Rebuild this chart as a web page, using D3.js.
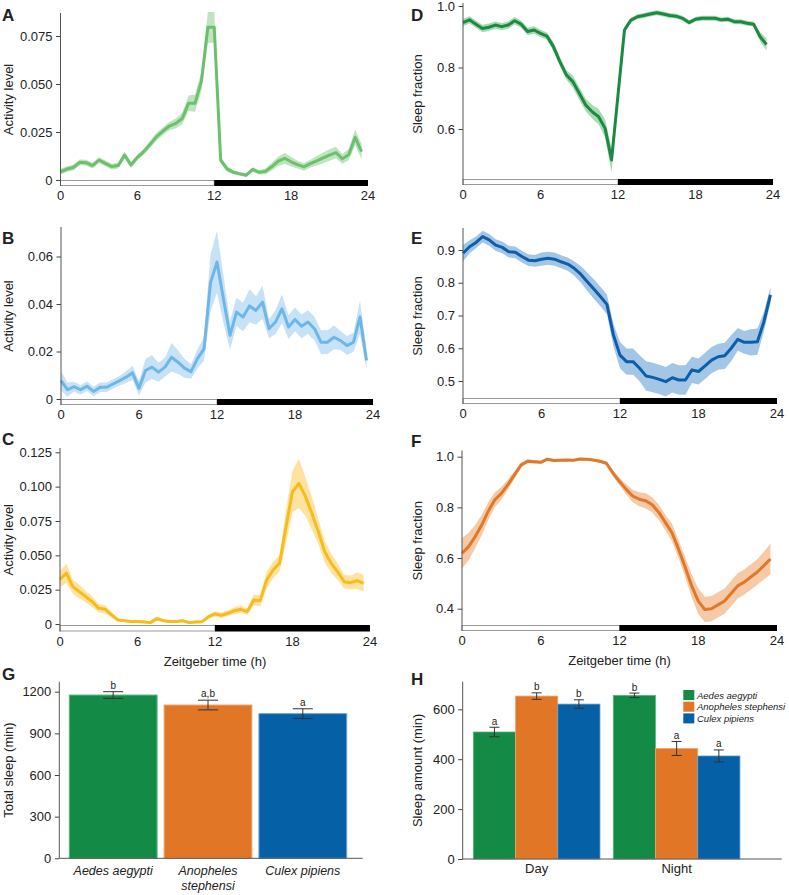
<!DOCTYPE html>
<html><head><meta charset="utf-8">
<script src="https://cdn.jsdelivr.net/npm/d3@7"></script>
<style>
body{margin:0;background:#fff}
svg{display:block}
text{font-family:"Liberation Sans",Arial,Helvetica,sans-serif;fill:#222}
</style>
</head><body>
<svg id="c" width="789" height="895"></svg>
<script>
// ---------- DATA ----------
const hours = [0,0.5,1,1.5,2,2.5,3,3.5,4,4.5,5,5.5,6,6.5,7,7.5,8,8.5,9,9.5,10,10.5,11,11.5,12,12.5,13,13.5,14,14.5,15,15.5,16,16.5,17,17.5,18,18.5,19,19.5,20,20.5,21,21.5,22,22.5,23,23.5];

// A: Aedes aegypti activity
const aedesActivity = [0.0043,0.0057,0.0065,0.0092,0.009,0.0075,0.0104,0.0087,0.007,0.0075,0.013,0.0078,0.0118,0.0148,0.0186,0.0226,0.0255,0.0281,0.0295,0.032,0.04,0.04,0.0515,0.0795,0.0795,0.0104,0.0058,0.004,0.0032,0.0025,0.0055,0.004,0.0045,0.007,0.0098,0.0113,0.0095,0.008,0.0068,0.0085,0.01,0.0115,0.013,0.0143,0.011,0.0133,0.0222,0.0148];
const aedesActivitySE = [0.0015,0.0015,0.0015,0.0015,0.0015,0.0015,0.0015,0.0015,0.0015,0.0015,0.0018,0.0015,0.0015,0.0015,0.0018,0.002,0.002,0.0022,0.0025,0.003,0.004,0.0045,0.005,0.008,0.008,0.002,0.0015,0.001,0.001,0.001,0.0012,0.0012,0.0015,0.002,0.0025,0.0028,0.0025,0.002,0.002,0.002,0.0025,0.0028,0.003,0.003,0.0025,0.003,0.004,0.004];
// B: Culex pipiens activity
const culexActivity = [0.0077,0.0039,0.0052,0.0039,0.0054,0.0032,0.0049,0.0049,0.0063,0.0077,0.0092,0.011,0.0045,0.012,0.0134,0.0113,0.0134,0.0176,0.0155,0.013,0.0115,0.017,0.0211,0.049,0.0577,0.042,0.0268,0.0366,0.0345,0.0392,0.0373,0.0408,0.0296,0.0324,0.038,0.0303,0.0335,0.0306,0.0324,0.0296,0.0239,0.0239,0.026,0.0246,0.0225,0.0239,0.0345,0.0162];
const culexActivitySE = [0.004,0.003,0.002,0.002,0.002,0.002,0.002,0.002,0.002,0.002,0.0025,0.003,0.003,0.005,0.005,0.004,0.004,0.006,0.005,0.004,0.003,0.004,0.005,0.012,0.013,0.01,0.006,0.006,0.006,0.007,0.006,0.007,0.004,0.005,0.006,0.005,0.005,0.005,0.005,0.005,0.005,0.005,0.005,0.004,0.004,0.004,0.007,0.004];
// C: Anopheles stephensi activity
const anophelesActivity = [0.0325,0.037,0.027,0.0235,0.0199,0.0162,0.0114,0.0107,0.0066,0.0029,0.0024,0.0019,0.0019,0.0015,0.001,0.0039,0.0024,0.0019,0.0019,0.0024,0.001,0.0015,0.0017,0.0053,0.0073,0.0063,0.0078,0.0097,0.0107,0.009,0.0175,0.017,0.032,0.0393,0.0442,0.0708,0.0963,0.1024,0.0927,0.0806,0.0672,0.0526,0.0442,0.038,0.0308,0.0301,0.0315,0.0296];
const anophelesActivitySE = [0.006,0.007,0.005,0.005,0.004,0.004,0.003,0.003,0.002,0.001,0.001,0.001,0.001,0.001,0.001,0.0015,0.001,0.001,0.001,0.001,0.001,0.001,0.001,0.0015,0.002,0.002,0.002,0.0025,0.0025,0.0025,0.004,0.004,0.006,0.006,0.006,0.012,0.015,0.018,0.014,0.012,0.009,0.008,0.007,0.006,0.005,0.005,0.006,0.006];
// D: Aedes aegypti sleep fraction
const aedesSleep = [0.946,0.955,0.941,0.927,0.931,0.938,0.933,0.938,0.952,0.941,0.917,0.922,0.911,0.902,0.868,0.819,0.776,0.754,0.716,0.678,0.656,0.64,0.602,0.499,0.71,0.922,0.954,0.965,0.969,0.974,0.978,0.974,0.969,0.967,0.96,0.946,0.957,0.96,0.96,0.96,0.955,0.957,0.949,0.949,0.944,0.941,0.9,0.875];
const aedesSleepSE = [0.012,0.012,0.012,0.012,0.012,0.012,0.012,0.012,0.012,0.012,0.012,0.012,0.012,0.012,0.015,0.015,0.015,0.02,0.02,0.02,0.022,0.025,0.03,0.04,0.02,0.01,0.008,0.008,0.008,0.008,0.008,0.008,0.008,0.008,0.008,0.008,0.008,0.008,0.008,0.008,0.008,0.008,0.008,0.008,0.008,0.008,0.015,0.02];
// E: Culex pipiens sleep fraction
const culexSleep = [0.89,0.91,0.923,0.941,0.931,0.915,0.908,0.895,0.893,0.88,0.869,0.867,0.872,0.875,0.872,0.864,0.857,0.844,0.826,0.803,0.781,0.758,0.734,0.64,0.579,0.559,0.559,0.539,0.515,0.511,0.505,0.498,0.51,0.503,0.503,0.534,0.529,0.546,0.564,0.574,0.577,0.6,0.627,0.618,0.618,0.62,0.681,0.763];
const culexSleepSE = [0.025,0.02,0.018,0.018,0.018,0.018,0.018,0.018,0.018,0.018,0.018,0.018,0.02,0.02,0.02,0.02,0.02,0.022,0.025,0.028,0.03,0.03,0.03,0.035,0.04,0.04,0.04,0.04,0.045,0.045,0.045,0.045,0.045,0.045,0.045,0.04,0.04,0.04,0.04,0.04,0.04,0.04,0.035,0.035,0.04,0.04,0.03,0.025];
// F: Anopheles stephensi sleep fraction
const anophelesSleep = [0.619,0.645,0.684,0.73,0.785,0.83,0.855,0.89,0.928,0.967,0.982,0.98,0.978,0.99,0.985,0.986,0.987,0.986,0.991,0.99,0.987,0.982,0.974,0.935,0.902,0.872,0.845,0.832,0.826,0.81,0.78,0.74,0.7,0.635,0.565,0.49,0.43,0.397,0.4,0.415,0.43,0.46,0.49,0.505,0.525,0.545,0.57,0.596];
const anophelesSleepSE = [0.06,0.055,0.045,0.04,0.035,0.03,0.025,0.02,0.015,0.01,0.008,0.007,0.006,0.006,0.005,0.005,0.005,0.005,0.005,0.005,0.005,0.006,0.008,0.012,0.015,0.02,0.025,0.028,0.03,0.03,0.03,0.03,0.035,0.035,0.04,0.045,0.05,0.05,0.05,0.05,0.05,0.05,0.05,0.05,0.05,0.05,0.055,0.06];

const timeTicks = [0,6,12,18,24];

// G / H
const species = ["Aedes aegypti","Anopheles stephensi","Culex pipiens"];
const speciesLabelLines = [["Aedes aegypti"],["Anopheles","stephensi"],["Culex pipiens"]];
const totalSleep = [1176,1104,1042];
const totalSleepSE = [24,35,35];
const totalSleepLetters = ["b","a,b","a"];
const periods = ["Day","Night"];
const daySleep = [509,653,621];
const daySleepSE = [19,13,17];
const dayLetters = ["a","b","b"];
const nightSleep = [656,443,413];
const nightSleepSE = [9,28,24];
const nightLetters = ["b","a","a"];
const speciesColors = ["#138a45","#e17627","#0560a6"];
const speciesStroke = ["#5cb87f","#f0a36a","#6aa6d6"];

// ---------- DRAW ----------
const svg = d3.select("#c");
const FONT = 13;

const panels = [
  {letter:"A", lx:2, ly:21, mean:aedesActivity, se:aedesActivitySE, line:"#6bc06b", band:"#bfe4bf",
   yLabel:"Activity level", yTicks:[0,0.025,0.05,0.075], fmt:d=>d===0?"0":d3.format(".3f")(d),
   x0:60.5, x1:368, dom:[0,0.075], rng:[180,36], axTop:13, barTop:180, barBot:186, yLabX:13, xTitle:false},
  {letter:"D", lx:411, ly:21, mean:aedesSleep, se:aedesSleepSE, line:"#1b8a42", band:"#a9dab3",
   yLabel:"Sleep fraction", yTicks:[0.6,0.8,1.0], fmt:d3.format(".1f"),
   x0:463, x1:773, dom:[0.6,1.0], rng:[129,6], axTop:3, barTop:179, barBot:185, yLabX:422, xTitle:false},
  {letter:"B", lx:2, ly:244, mean:culexActivity, se:culexActivitySE, line:"#6db6e8", band:"#c7e2f6",
   yLabel:"Activity level", yTicks:[0,0.02,0.04,0.06], fmt:d=>d===0?"0":d3.format(".2f")(d),
   x0:61, x1:373, dom:[0,0.06], rng:[399,256.5], axTop:227, barTop:399, barBot:405, yLabX:13, xTitle:false},
  {letter:"E", lx:411, ly:243.5, mean:culexSleep, se:culexSleepSE, line:"#0c5ea8", band:"#a4c6e6",
   yLabel:"Sleep fraction", yTicks:[0.5,0.6,0.7,0.8,0.9], fmt:d3.format(".1f"),
   x0:463, x1:777, dom:[0.5,0.9], rng:[381,250], axTop:228, barTop:398, barBot:404, yLabX:422, xTitle:false},
  {letter:"C", lx:2, ly:445, mean:anophelesActivity, se:anophelesActivitySE, line:"#f6bd1a", band:"#fde2a0",
   yLabel:"Activity level", yTicks:[0,0.025,0.05,0.075,0.1,0.125], fmt:d=>d===0?"0":d3.format(".3f")(d),
   x0:60, x1:370, dom:[0,0.125], rng:[624,452.3], axTop:448, barTop:625, barBot:631.5, yLabX:13, xTitle:true},
  {letter:"F", lx:411, ly:446.5, mean:anophelesSleep, se:anophelesSleepSE, line:"#e0782a", band:"#f6caa6",
   yLabel:"Sleep fraction", yTicks:[0.4,0.6,0.8,1.0], fmt:d3.format(".1f"),
   x0:462, x1:777, dom:[0.4,1.0], rng:[608.7,456.7], axTop:450.5, barTop:625, barBot:631, yLabX:422, xTitle:true}
];

function leftAxis(g, y, ticks, fmt, xPos, top, bottom){
  const ax = g.append("g").attr("transform",`translate(${xPos},0)`)
    .call(d3.axisLeft(y).tickValues(ticks).tickFormat(fmt).tickSize(4.5).tickPadding(3.5));
  ax.select(".domain").remove();
  ax.selectAll(".tick line").attr("stroke","#444");
  ax.selectAll(".tick text").attr("font-size",FONT).attr("fill","#222")
    .attr("font-family",'"Liberation Sans",Arial,sans-serif');
  g.append("line").attr("x1",xPos).attr("x2",xPos).attr("y1",top).attr("y2",bottom)
    .attr("stroke","#555").attr("stroke-width",1);
}

panels.forEach(p=>{
  const g = svg.append("g");
  const x = d3.scaleLinear().domain([0,24]).range([p.x0,p.x1]);
  const y = d3.scaleLinear().domain(p.dom).range(p.rng);
  const data = hours.map((h,i)=>({h, m:p.mean[i], s:p.se[i]}));
  g.append("path").datum(data)
    .attr("d", d3.area().x(d=>x(d.h)).y0(d=>y(d.m-d.s)).y1(d=>y(d.m+d.s)))
    .attr("fill",p.band).attr("stroke","none");
  g.append("path").datum(data)
    .attr("d", d3.line().x(d=>x(d.h)).y(d=>y(d.m)))
    .attr("fill","none").attr("stroke",p.line).attr("stroke-width",3)
    .attr("stroke-linejoin","round");
  // light/dark bar
  g.append("rect").attr("x",x(0)).attr("y",p.barTop+0.5).attr("width",x(12)-x(0)).attr("height",p.barBot-p.barTop-1)
    .attr("fill","#fff").attr("stroke","#999").attr("stroke-width",1);
  g.append("rect").attr("x",x(12)).attr("y",p.barTop).attr("width",x(24)-x(12)).attr("height",p.barBot-p.barTop)
    .attr("fill","#000");
  leftAxis(g, y, p.yTicks, p.fmt, p.x0, p.axTop, p.barBot);
  // x tick labels
  g.selectAll(".xt").data(timeTicks).enter().append("text")
    .attr("x",d=>x(d)).attr("y",p.barBot+14).attr("text-anchor","middle")
    .attr("font-size",FONT).text(d=>d);
  if(p.xTitle){
    g.append("text").attr("x",(x(0)+x(24))/2).attr("y",p.barBot+34).attr("text-anchor","middle")
      .attr("font-size",FONT).text("Zeitgeber time (h)");
  }
  g.append("text").attr("transform",`translate(${p.yLabX},${(p.axTop+p.barBot)/2}) rotate(-90)`)
    .attr("text-anchor","middle").attr("font-size",FONT).text(p.yLabel);
  g.append("text").attr("x",p.lx).attr("y",p.ly).attr("font-size",17).attr("font-weight","bold")
    .attr("fill","#000").text(p.letter);
});

// ---------- G ----------
{
  const g = svg.append("g");
  const axX = 59.3, base = 858.3;
  const x = d3.scaleBand().domain(species).range([65.5,350.5]).paddingInner(0.074).paddingOuter(0.04);
  const y = d3.scaleLinear().domain([0,1200]).range([base,691.7]);
  g.selectAll(".bar").data(species).enter().append("rect")
    .attr("x",d=>x(d)).attr("width",x.bandwidth())
    .attr("y",(d,i)=>y(totalSleep[i])).attr("height",(d,i)=>base-y(totalSleep[i]))
    .attr("fill",(d,i)=>speciesColors[i]).attr("stroke",(d,i)=>speciesStroke[i]).attr("stroke-width",1);
  species.forEach((s,i)=>{
    const cx = x(s)+x.bandwidth()/2, hi=y(totalSleep[i]+totalSleepSE[i]), lo=y(totalSleep[i]-totalSleepSE[i]);
    g.append("line").attr("x1",cx).attr("x2",cx).attr("y1",hi).attr("y2",lo).attr("stroke","#333");
    g.append("line").attr("x1",cx-10).attr("x2",cx+10).attr("y1",hi).attr("y2",hi).attr("stroke","#333");
    g.append("line").attr("x1",cx-10).attr("x2",cx+10).attr("y1",lo).attr("y2",lo).attr("stroke","#333");
    g.append("text").attr("x",cx).attr("y",hi-3).attr("text-anchor","middle").attr("font-size",10).text(totalSleepLetters[i]);
    speciesLabelLines[i].forEach((t,j)=>{
      g.append("text").attr("x",cx).attr("y",875+j*14.5).attr("text-anchor","middle")
        .attr("font-size",12.5).attr("font-style","italic").text(t);
    });
  });
  leftAxis(g, y, [0,300,600,900,1200], d3.format("d"), axX, 681.7, base);
  g.append("line").attr("x1",axX).attr("x2",362.7).attr("y1",base).attr("y2",base).attr("stroke","#555");
  g.append("text").attr("transform",`translate(13,${(681.7+base)/2}) rotate(-90)`)
    .attr("text-anchor","middle").attr("font-size",FONT).text("Total sleep (min)");
  g.append("text").attr("x",2).attr("y",680).attr("font-size",17).attr("font-weight","bold").attr("fill","#000").text("G");
}

// ---------- H ----------
{
  const g = svg.append("g");
  const axX = 462.7, base = 859;
  const x0 = d3.scaleBand().domain(periods).range([462.7,750.6]).paddingInner(0.095).paddingOuter(0.076);
  const x1 = d3.scaleBand().domain(species).range([0,x0.bandwidth()]).padding(0);
  const y = d3.scaleLinear().domain([0,600]).range([base,709.3]);
  const vals = {Day:[daySleep,daySleepSE,dayLetters], Night:[nightSleep,nightSleepSE,nightLetters]};
  periods.forEach(per=>{
    const [m,se,let_] = vals[per];
    species.forEach((s,i)=>{
      const bx = x0(per)+x1(s);
      g.append("rect").attr("x",bx).attr("width",x1.bandwidth()).attr("y",y(m[i])).attr("height",base-y(m[i]))
        .attr("fill",speciesColors[i]).attr("stroke",speciesStroke[i]).attr("stroke-width",0.8);
      const cx = bx+x1.bandwidth()/2, hi=y(m[i]+se[i]), lo=y(m[i]-se[i]);
      g.append("line").attr("x1",cx).attr("x2",cx).attr("y1",hi).attr("y2",lo).attr("stroke","#333");
      g.append("line").attr("x1",cx-5).attr("x2",cx+5).attr("y1",hi).attr("y2",hi).attr("stroke","#333");
      g.append("line").attr("x1",cx-5).attr("x2",cx+5).attr("y1",lo).attr("y2",lo).attr("stroke","#333");
      g.append("text").attr("x",cx).attr("y",hi-2.5).attr("text-anchor","middle").attr("font-size",10).text(let_[i]);
    });
    g.append("text").attr("x",x0(per)+x0.bandwidth()/2).attr("y",873).attr("text-anchor","middle")
      .attr("font-size",FONT).text(per);
  });
  leftAxis(g, y, [0,200,400,600], d3.format("d"), axX, 681.7, base);
  g.append("line").attr("x1",axX).attr("x2",781.7).attr("y1",base).attr("y2",base).attr("stroke","#555");
  g.append("text").attr("transform",`translate(422,${(681.7+base)/2}) rotate(-90)`)
    .attr("text-anchor","middle").attr("font-size",FONT).text("Sleep amount (min)");
  g.append("text").attr("x",411).attr("y",685).attr("font-size",17).attr("font-weight","bold").attr("fill","#000").text("H");
  // legend
  species.forEach((s,i)=>{
    const cy = 695+i*11.7;
    g.append("rect").attr("x",683.3).attr("y",cy-5).attr("width",11).attr("height",10).attr("fill",speciesColors[i]);
    g.append("text").attr("x",697).attr("y",cy+3.5).attr("font-size",9.5).attr("font-style","italic").text(s);
  });
}
</script>
</body></html>
